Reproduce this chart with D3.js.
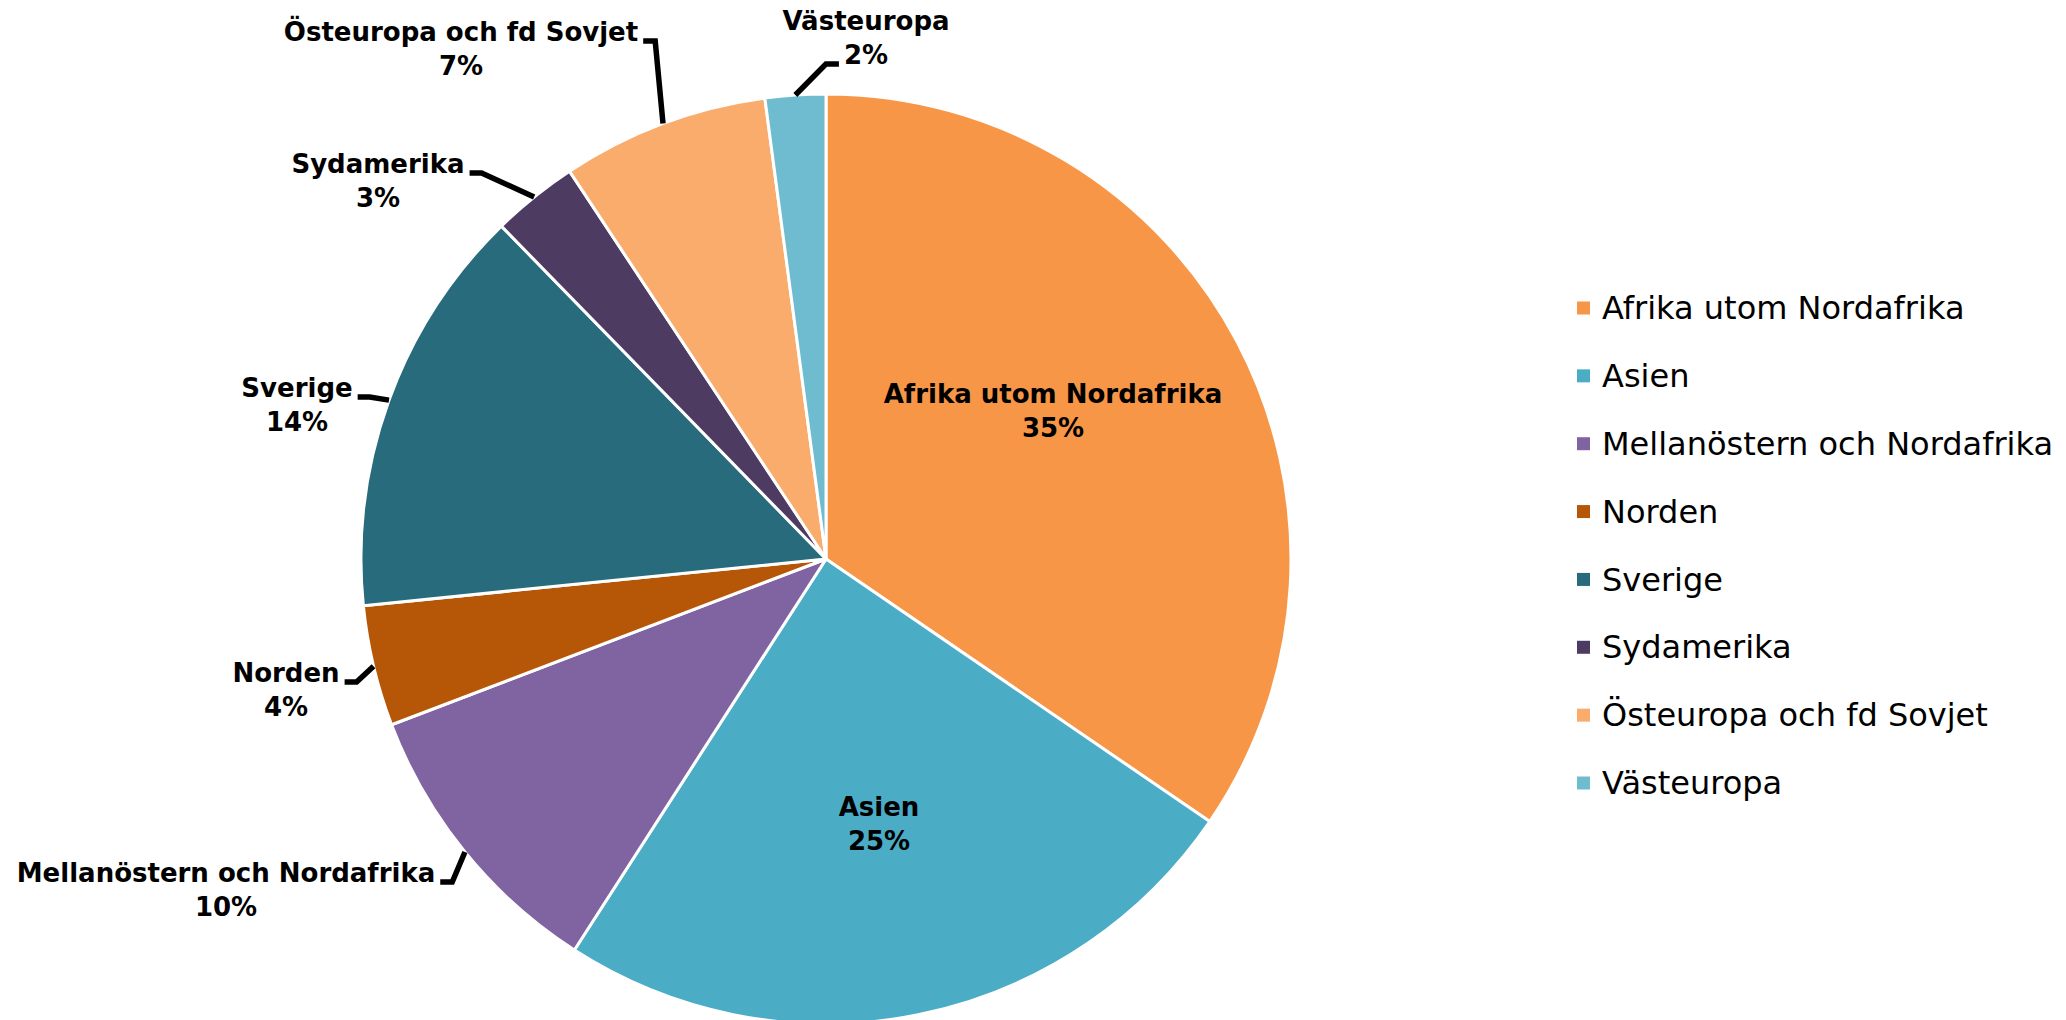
<!DOCTYPE html>
<html>
<head>
<meta charset="utf-8">
<script src="https://cdn.jsdelivr.net/npm/d3@7"></script>
<style>
  html, body { margin: 0; padding: 0; background: #fff; overflow: hidden; }
  svg { display: block; }
  text { font-family: "DejaVu Sans", Verdana, sans-serif; fill: #000; }
</style>
</head>
<body>
<svg id="chart" width="2066" height="1020"></svg>
<script>
// ---- data ----
const categories = ["Afrika utom Nordafrika", "Asien", "Mellanöstern och Nordafrika", "Norden",
                    "Sverige", "Sydamerika", "Östeuropa och fd Sovjet", "Västeuropa"];
const values = [34.55, 24.55, 10.1, 4.2, 14.3, 3.0, 7.2, 2.1];
const colors = ["#F79646", "#4BACC6", "#8064A2", "#B65708", "#286B7C", "#4D3B62", "#F9AC6C", "#6FBCD1"];

// ---- layout (label placement, not data) ----
const cx = 826, cy = 559, R = 465;
const labelLayout = [
  { x: 1053, y: 394, side: "inside" },
  { x: 879,  y: 807, side: "inside" },
  { x: 226,  y: 873, side: "left" },
  { x: 286,  y: 673, side: "left" },
  { x: 297,  y: 388, side: "left" },
  { x: 378,  y: 164, side: "left" },
  { x: 461,  y: 32,  side: "left" },
  { x: 866,  y: 21,  side: "right" }
];
const lineGap = 34;

const svg = d3.select("#chart");
const total = d3.sum(values);
const data = categories.map((c, i) => ({ cat: c, value: values[i], color: colors[i], layout: labelLayout[i] }));

const pie = d3.pie().sort(null).value(d => d.value);
const arcs = pie(data);
const arc = d3.arc().innerRadius(0).outerRadius(R);
const edgeArc = d3.arc().innerRadius(R).outerRadius(R);

const g = svg.append("g").attr("transform", `translate(${cx},${cy})`);
g.selectAll("path.slice")
  .data(arcs)
  .join("path")
  .attr("class", "slice")
  .attr("d", arc)
  .attr("fill", d => d.data.color)
  .attr("stroke", "#fff")
  .attr("stroke-width", 3)
  .attr("stroke-linejoin", "round");

// ---- labels ----
const pct = v => Math.round(v / total * 100) + "%";
const labels = svg.append("g");
arcs.forEach(a => {
  const L = a.data.layout;
  const t1 = labels.append("text")
    .attr("x", L.x).attr("y", L.y).attr("dy", "0.35em")
    .attr("text-anchor", "middle")
    .attr("font-size", 26).attr("font-weight", "bold")
    .text(a.data.cat);
  const t2 = labels.append("text")
    .attr("x", L.x).attr("y", L.y + lineGap).attr("dy", "0.35em")
    .attr("text-anchor", "middle")
    .attr("font-size", 26).attr("font-weight", "bold")
    .text(pct(a.data.value));
  if (L.side === "inside") return;
  const [ex, ey] = edgeArc.centroid(a);
  const px = cx + ex, py = cy + ey;
  let pts;
  if (L.side === "left") {
    const w = t1.node().getComputedTextLength();
    const sx = L.x + w / 2 + 5, sy = L.y + 9;
    pts = [[sx, sy], [sx + 12, sy], [px, py]];
  } else {
    const w = t2.node().getComputedTextLength();
    const sx = L.x - w / 2 - 5, sy = L.y + lineGap + 9;
    pts = [[sx, sy], [sx - 13, sy], [px, py]];
  }
  labels.insert("path", ":first-child")
    .attr("d", d3.line()(pts))
    .attr("fill", "none")
    .attr("stroke", "#000")
    .attr("stroke-width", 5.5)
    .attr("stroke-linejoin", "miter");
});

// ---- legend ----
const legend = svg.append("g");
const ly = d3.scalePoint().domain(categories).range([308, 783]);
const items = legend.selectAll("g.item").data(data).join("g")
  .attr("class", "item")
  .attr("transform", d => `translate(1577,${ly(d.cat)})`);
items.append("rect")
  .attr("x", 0).attr("y", -6.5).attr("width", 13).attr("height", 13)
  .attr("fill", d => d.color);
items.append("text")
  .attr("x", 25).attr("y", 0).attr("dy", "0.35em")
  .attr("font-size", 32)
  .text(d => d.cat);
</script>
</body>
</html>
